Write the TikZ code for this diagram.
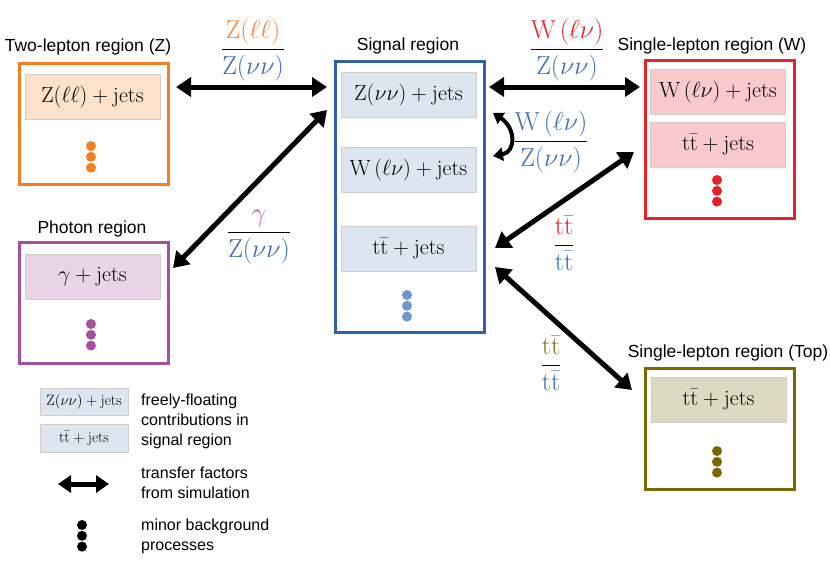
\RequirePackage{fix-cm}
\documentclass[tikz,border=0pt]{standalone}
\usepackage{amsmath}
\usepackage{fontspec}
\setsansfont{Liberation Sans}
\usetikzlibrary{arrows.meta}
\definecolor{cOr}{HTML}{F47F20}
\definecolor{cOrT}{HTML}{F0883A}
\definecolor{cOrF}{HTML}{FDE2CB}
\definecolor{cBl}{HTML}{2F62A7}
\definecolor{cBlT}{HTML}{3D6DB3}
\definecolor{cBlF}{HTML}{DCE6F1}
\definecolor{cBlD}{HTML}{6B99CF}
\definecolor{cRd}{HTML}{E8202A}
\definecolor{cRdF}{HTML}{F8C9CD}
\definecolor{cPu}{HTML}{A64F9D}
\definecolor{cPuT}{HTML}{B35AA8}
\definecolor{cPuF}{HTML}{E9D4E7}
\definecolor{cOl}{HTML}{786800}
\definecolor{cOlT}{HTML}{857515}
\definecolor{cOlF}{HTML}{DCDAC3}
\definecolor{cEdge}{HTML}{D2CCC6}
\newcommand\mydots[4]{\foreach \k in {0,1,2} {\node[dotnode, fill=#4] (#1\k) at (#2,#3+\k*10.8) {};}}
\newcommand\ttbar{\mathrm{t}\bar{\mathrm{t}}}
\begin{document}
\begin{tikzpicture}[x=1pt,y=-1pt,
  region/.style={draw, line width=3pt, fill=white, inner sep=0pt, minimum width=149pt},
  inbox/.style={draw=cEdge, line width=0.8pt, minimum width=135pt, minimum height=45pt, inner sep=0pt, font=\fontsize{22}{25}\selectfont},
  legbox/.style={draw=cEdge, line width=0.8pt, fill=cBlF, minimum width=88pt, minimum height=27.5pt, inner sep=0pt, font=\fontsize{15}{18}\selectfont},
  title/.style={font=\sffamily\fontsize{17.5}{20}\selectfont},
  dotnode/.style={circle, inner sep=0pt, minimum size=10pt},
  tf/.style={line width=5pt, {Triangle[length=15pt,width=19pt]}-{Triangle[length=15pt,width=19pt]}},
  tfs/.style={line width=4pt, {Triangle[length=10pt,width=13pt]}-{Triangle[length=10pt,width=13pt]}},
  tfl/.style={line width=5pt, {Triangle[length=13pt,width=17pt]}-{Triangle[length=13pt,width=17pt]}},
  fraclab/.style={font=\fontsize{26}{30}\selectfont},
  leg/.style={font=\sffamily\fontsize{16}{20}\selectfont, align=left, anchor=west, inner sep=0pt}]
\useasboundingbox (0,0) rectangle (830,587);

% Two-lepton region
\node[title] (tz) at (88,47) {Two-lepton region (Z)};
\node[region, draw=cOr, minimum height=121pt] (zreg) at (93.5,123.5) {};
\node[inbox, fill=cOrF] (zjets) at (92.5,96.5) {$\mathrm{Z}(\ell\ell)+\mathrm{jets}$};
\mydots{zd}{91}{146}{cOr}

% Signal region
\node[title] (ts) at (408,46) {Signal region};
\node[region, draw=cBl, minimum height=271pt] (sreg) at (409.5,196.5) {};
\node[inbox, fill=cBlF] (sz) at (408.5,94.5) {$\mathrm{Z}(\nu\nu)+\mathrm{jets}$};
\node[inbox, fill=cBlF] (sw) at (408.5,170) {$\mathrm{W}\,(\ell\nu)+\mathrm{jets}$};
\node[inbox, fill=cBlF] (st) at (408.5,249) {$\ttbar+\mathrm{jets}$};
\mydots{sd}{407}{295}{cBlD}

% Single-lepton W region
\node[title] (tw) at (712,46) {Single-lepton region (W)};
\node[region, draw=cRd, minimum height=158pt] (wreg) at (719.5,139) {};
\node[inbox, fill=cRdF] (ww) at (718,91.5) {$\mathrm{W}\,(\ell\nu)+\mathrm{jets}$};
\node[inbox, fill=cRdF] (wt) at (718,145) {$\ttbar+\mathrm{jets}$};
\mydots{wd}{717}{180}{cRd}

% Photon region
\node[title] (tp) at (92,229) {Photon region};
\node[region, draw=cPu, minimum height=121pt] (preg) at (93.5,302.5) {};
\node[inbox, fill=cPuF] (pg) at (92.5,276.5) {$\gamma+\mathrm{jets}$};
\mydots{pd}{91}{324}{cPu}

% Single-lepton Top region
\node[title] (tt) at (728,353) {Single-lepton region (Top)};
\node[region, draw=cOl, minimum height=121pt] (treg) at (719.5,428.5) {};
\node[inbox, fill=cOlF] (tj) at (718.5,399.5) {$\ttbar+\mathrm{jets}$};
\mydots{td}{717}{451}{cOl}

% transfer arrows
\coordinate (za) at (176,87); \coordinate (sa) at (327,87);
\draw[tf] (za) -- (sa);
\coordinate (sb) at (489,87); \coordinate (wb) at (640,87);
\draw[tf] (sb) -- (wb);
\coordinate (pa) at (173,268); \coordinate (sc) at (327,110);
\draw[tf] (pa) -- (sc);
\coordinate (sd) at (495,248); \coordinate (wc) at (634,152);
\draw[tf] (sd) -- (wc);
\coordinate (se) at (495,267); \coordinate (ta) at (632,390);
\draw[tf] (se) -- (ta);
\coordinate (c1) at (493,113); \coordinate (c2) at (493,156);
\draw[tfs] (c1) .. controls (516,128) and (516,152) .. (c2);

% ratio labels
\node[fraclab] (f1) at (253,50) {$\displaystyle\frac{\color{cOrT}\mathrm{Z}(\ell\ell)}{\color{cBlT}\mathrm{Z}(\nu\nu)}$};
\node[fraclab] (f2) at (567,50) {$\displaystyle\frac{\color{cRd}\mathrm{W}\,(\ell\nu)}{\color{cBlT}\mathrm{Z}(\nu\nu)}$};
\node[fraclab] (f3) at (551,142) {$\displaystyle\frac{\color{cBlT}\mathrm{W}\,(\ell\nu)}{\color{cBlT}\mathrm{Z}(\nu\nu)}$};
\node[fraclab] (f4) at (259,237) {$\displaystyle\frac{\color{cPuT}\gamma}{\color{cBlT}\mathrm{Z}(\nu\nu)}$};
\node[fraclab] (f5) at (564,243) {$\displaystyle\frac{\color{cRd}\ttbar}{\color{cBlT}\ttbar}$};
\node[fraclab] (f6) at (551,363) {$\displaystyle\frac{\color{cOlT}\ttbar}{\color{cBlT}\ttbar}$};

% legend
\node[legbox] (lz) at (84,402) {$\mathrm{Z}(\nu\nu)+\mathrm{jets}$};
\node[legbox] (lt) at (84,438.5) {$\ttbar+\mathrm{jets}$};
\node[leg] (l1) at (141,421) {freely-floating\\contributions in\\signal region};
\coordinate (la1) at (58,484); \coordinate (la2) at (109,484);
\draw[tfl] (la1) -- (la2);
\node[leg] (l2) at (141,483) {transfer factors\\from simulation};
\mydots{ld}{82}{525}{black}
\node[leg] (l3) at (141,536) {minor background\\processes};
\end{tikzpicture}
\end{document}
